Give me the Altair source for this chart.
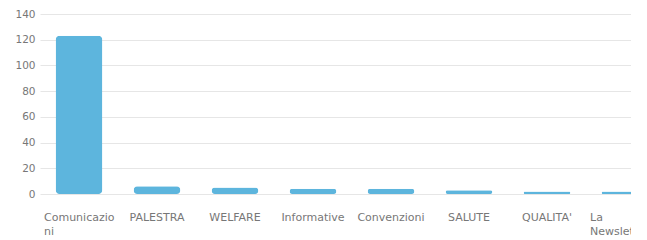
import json
import altair as alt
import pandas as pd

categories = ["Comunicazioni", "PALESTRA", "WELFARE", "Informative", "Convenzioni", "SALUTE", "QUALITA'", "La Newsletter"]
values = [123, 6, 5, 4, 4, 3, 2, 2]
tick_label_lines = [["Comunicazio", "ni"], ["PALESTRA"], ["WELFARE"], ["Informative"], ["Convenzioni"], ["SALUTE"], ["QUALITA'"], ["La", "Newsletter"]]
y_ticks = [0, 20, 40, 60, 80, 100, 120, 140]

df = pd.DataFrame({"cat": categories, "val": values})

expr = "datum.label"
for c, lines in zip(reversed(categories), reversed(tick_label_lines)):
    expr = f"datum.label == {json.dumps(c)} ? {json.dumps(lines)} : ({expr})"

wrapped = [c for c, lines in zip(categories, tick_label_lines) if len(lines) > 1]
wrap_test = f"indexof({json.dumps(wrapped)}, datum.value) >= 0"

font = "DejaVu Sans"

chart = alt.Chart(df).mark_bar(color="#5DB5DD", cornerRadius=4).encode(
    x=alt.X("cat:N", sort=categories, title=None,
            scale=alt.Scale(range=[0, 624], paddingInner=0.4, paddingOuter=0.2),
            axis=alt.Axis(labelAngle=0, labelExpr=expr, domain=False, ticks=False,
                          labelPadding=17, labelFontSize=11, labelColor="#777777",
                          labelFont=font, labelLineHeight=14, labelBaseline="top",
                          labelAlign={"condition": {"test": wrap_test, "value": "left"}, "value": "center"},
                          labelOffset={"condition": {"test": wrap_test, "value": -35}, "value": 0},
                          labelOverlap=False, labelLimit=200)),
    y=alt.Y("val:Q", title=None,
            scale=alt.Scale(domain=[0, 140], nice=False),
            axis=alt.Axis(values=y_ticks, domain=False, ticks=False, labelPadding=5,
                          labelFontSize=10.5, labelColor="#777777", labelFont=font,
                          gridColor="#E6E6E6", gridWidth=1)),
).properties(
    width=591, height=180,
    autosize=alt.AutoSizeParams(type="none"),
    padding={"left": 32, "top": 6, "right": 0, "bottom": 46},
).configure_view(stroke=None)

chart.save("out.html", embed_options={"renderer": "svg", "actions": False})
